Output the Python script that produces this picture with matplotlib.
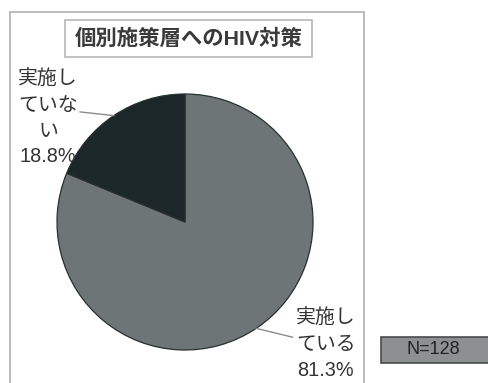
import numpy as np
import matplotlib
matplotlib.use("Agg")
import matplotlib.pyplot as plt
from matplotlib.patches import Rectangle

plt.rcParams['font.family'] = ['Liberation Sans', 'Noto Sans CJK JP', 'DejaVu Sans']

# Data
title = "個別施策層へのHIV対策"
categories = ["実施し\nている", "実施し\nていな\nい"]
shares = [81.3, 18.8]
colors = ["#6d7576", "#1c2729"]
n_total = 128

W, H = 488, 383
fig = plt.figure(figsize=(W / 100, H / 100), dpi=100)
fig.patch.set_facecolor("white")


def px_rect(x0, y0, x1, y1):
    """Pixel box (top-left origin) to figure fraction [l, b, w, h]."""
    return [x0 / W, 1 - y1 / H, (x1 - x0) / W, (y1 - y0) / H]


# Outer chart frame
l, b, w, h = px_rect(10, 12, 364, 395)
fig.patches.append(Rectangle((l, b), w, h, transform=fig.transFigure,
                             fill=False, edgecolor="#bcbcbc", lw=1.4))

# Title box
l, b, w, h = px_rect(65, 20, 312, 57)
fig.patches.append(Rectangle((l, b), w, h, transform=fig.transFigure,
                             facecolor="white", edgecolor="#b8b8b8", lw=1.2))
fig.text(l + w / 2, b + h / 2, title, ha="center", va="center",
         fontsize=15.4, color="#3a3a3a", fontweight="bold")

# Pie
cx, cy, r = 185, 222, 128
ax = fig.add_axes(px_rect(cx - r, cy - r, cx + r, cy + r))
wedges, _ = ax.pie(shares, colors=colors, startangle=90, counterclock=False,
                   radius=1.0, wedgeprops=dict(edgecolor="#2a2f30", linewidth=0.9))
ax.set_xlim(-1, 1)
ax.set_ylim(-1, 1)
ax.set_axis_off()

# Label anchors (axes data units) for text and leader-line ends
label_pos = [(1.10, -0.955), (-1.07, 0.81)]
line_end = [(0.84, -0.90), (-0.82, 0.86)]

for wdg, cat, val, tp, le in zip(wedges, categories, shares, label_pos, line_end):
    mid = np.deg2rad((wdg.theta1 + wdg.theta2) / 2)
    edge = (np.cos(mid) * 1.0, np.sin(mid) * 1.0)
    ax.plot([edge[0], le[0]], [edge[1], le[1]], color="#8c8c8c", lw=1.0,
            clip_on=False)
    ax.text(tp[0], tp[1], f"{cat}\n{val:.1f}%", ha="center", va="center",
            fontsize=14.3, color="#333333", linespacing=1.45, clip_on=False)

# Sample-size box
l, b, w, h = px_rect(381, 337, 490, 363)
fig.patches.append(Rectangle((l, b), w, h, transform=fig.transFigure,
                             facecolor="#8d9091", edgecolor="#4a4a4a", lw=1.2))
fig.text(433 / W, 1 - 350 / H, f"N={n_total}", ha="center", va="center",
         fontsize=13, color="#222222")

fig.savefig("out.png", dpi=100)
